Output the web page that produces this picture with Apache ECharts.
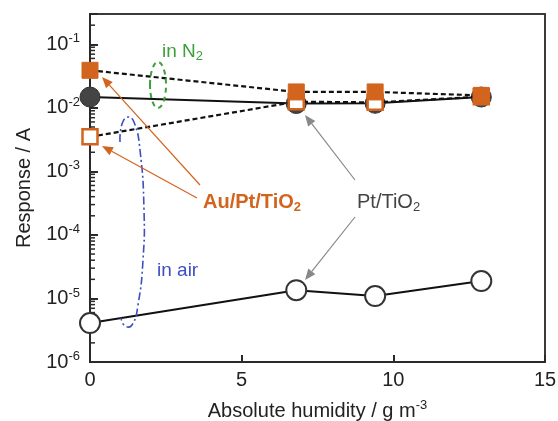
<!DOCTYPE html>
<html>
<head>
<meta charset="utf-8">
<script src="https://cdn.jsdelivr.net/npm/echarts@6/dist/echarts.min.js"></script>
<style>
html,body{margin:0;padding:0;background:#fff;}
#chart{width:558px;height:421px;}
</style>
</head>
<body>
<div id="chart"></div>
<script>
// ---- data ----
const humidity = [0, 6.8, 9.4, 12.9];
const ptTiO2Air = [4.1e-6, 1.35e-5, 1.09e-5, 1.88e-5];
const ptTiO2N2 = [0.0148, 0.0117, 0.0118, 0.0148];
const auPtTiO2N2 = [0.039, 0.0178, 0.0178, 0.0157];
const auPtTiO2Air = [0.0035, 0.0125, 0.0122, 0.0150];
const xTicks = [0, 5, 10, 15];
const yDecades = [-6, -5, -4, -3, -2, -1];
const minorMultipliers = [2, 3, 4, 5, 6, 7, 8, 9];

const FONT = 'Liberation Sans, Arial, sans-serif';
const ORANGE = '#d2641e';
const GREEN = '#3ca03c';
const BLUE = '#3c4fc4';

function pairs(ys) { return humidity.map((x, i) => [x, ys[i]]); }

const minorTickData = [];
yDecades.forEach(d => minorMultipliers.forEach(m => {
  const v = m * Math.pow(10, d);
  if (v <= 0.3 + 1e-9) minorTickData.push([0, v]);
}));

function arrow(x1, y1, x2, y2, color) {
  const ang = Math.atan2(y2 - y1, x2 - x1);
  const L = 11, W = 4.5;
  const bx = x2 - L * Math.cos(ang), by = y2 - L * Math.sin(ang);
  const px = -Math.sin(ang) * W, py = Math.cos(ang) * W;
  return [
    { type: 'line', shape: { x1: x1, y1: y1, x2: bx, y2: by }, style: { stroke: color, lineWidth: 1.2 }, z: 20 },
    { type: 'polygon', shape: { points: [[x2, y2], [bx + px, by + py], [bx - px, by - py]] }, style: { fill: color }, z: 20 }
  ];
}

const chart = echarts.init(document.getElementById('chart'), null, { renderer: 'canvas' });

const option = {
  backgroundColor: '#fff',
  animation: false,
  grid: { left: 90, right: 13, top: 14, bottom: 59, containLabel: false, outerBoundsMode: 'none',
    show: true, borderColor: '#3a3a3a', borderWidth: 2, backgroundColor: 'transparent' },
  xAxis: {
    type: 'value', min: 0, max: 15, interval: 5,
    axisLine: { show: true, onZero: false, lineStyle: { color: '#2a2a2a', width: 2 } },
    axisTick: { show: true, inside: true, length: 7, lineStyle: { color: '#2a2a2a', width: 2 } },
    splitLine: { show: false },
    axisLabel: {
      fontSize: 20, color: '#222', fontFamily: FONT, margin: 8,
      formatter: v => xTicks.indexOf(v) >= 0 ? String(v) : ''
    },
    name: '{a|Absolute humidity / g m}{s|-3}',
    nameLocation: 'middle', nameGap: 37,
    nameTextStyle: {
      rich: {
        a: { fontSize: 20, color: '#222', fontFamily: FONT, lineHeight: 24 },
        s: { fontSize: 13, color: '#222', fontFamily: FONT, verticalAlign: 'top', lineHeight: 14 }
      }
    }
  },
  yAxis: {
    type: 'log', logBase: 10, min: 1e-6, max: 0.3,
    axisLine: { show: true, onZero: false, lineStyle: { color: '#2a2a2a', width: 2 } },
    axisTick: { show: true, inside: true, length: 8, lineStyle: { color: '#2a2a2a', width: 2 } },
    minorTick: { show: false },
    splitLine: { show: false },
    axisLabel: {
      margin: 10,
      formatter: function (v) {
        const e = Math.log10(v);
        if (Math.abs(e - Math.round(e)) > 1e-6) return '';
        return '{b|10}{s|' + Math.round(e) + '}';
      },
      rich: {
        b: { fontSize: 20, color: '#222', fontFamily: FONT, lineHeight: 24 },
        s: { fontSize: 13, color: '#222', fontFamily: FONT, verticalAlign: 'top', lineHeight: 14 }
      }
    },
    name: 'Response / A',
    nameLocation: 'middle', nameGap: 56, nameRotate: 90,
    nameTextStyle: { fontSize: 20, color: '#222', fontFamily: FONT }
  },
  series: [
    {
      name: 'minor ticks', type: 'custom', silent: true, z: 1,
      data: minorTickData,
      renderItem: function (params, api) {
        const p = api.coord([0, api.value(1)]);
        return { type: 'line', shape: { x1: p[0], y1: p[1], x2: p[0] + 5, y2: p[1] }, style: { stroke: '#2a2a2a', lineWidth: 1.5 } };
      }
    },
    {
      name: 'Pt/TiO2 in N2', type: 'line', z: 2,
      data: pairs(ptTiO2N2),
      symbol: 'circle', symbolSize: 20,
      lineStyle: { color: '#111', width: 2 },
      itemStyle: { color: '#444', borderColor: '#333', borderWidth: 1 }
    },
    {
      name: 'Pt/TiO2 in air', type: 'line', z: 3,
      data: pairs(ptTiO2Air),
      symbol: 'circle', symbolSize: 20,
      lineStyle: { color: '#111', width: 2 },
      itemStyle: { color: '#fff', borderColor: '#333', borderWidth: 2 }
    },
    {
      name: 'Au/Pt/TiO2 in air', type: 'line', z: 4,
      data: pairs(auPtTiO2Air),
      symbol: 'rect', symbolSize: 15,
      lineStyle: { color: '#111', width: 2.2, type: [5, 3] },
      itemStyle: { color: '#fff', borderColor: ORANGE, borderWidth: 2.5 }
    },
    {
      name: 'Au/Pt/TiO2 in N2', type: 'line', z: 5,
      data: pairs(auPtTiO2N2),
      symbol: 'rect', symbolSize: 16,
      lineStyle: { color: '#111', width: 2.2, type: [5, 3] },
      itemStyle: { color: ORANGE, borderColor: ORANGE, borderWidth: 1 }
    }
  ],
  graphic: [
    { type: 'ellipse', shape: { cx: 158, cy: 85, rx: 8, ry: 23 }, style: { fill: 'none', stroke: GREEN, lineWidth: 2, lineDash: [5, 4] }, z: 20 },
    { type: 'text', x: 162, y: 40, style: { text: '{a|in N}{b|2}', rich: {
        a: { fontSize: 19, fill: GREEN, fontFamily: FONT },
        b: { fontSize: 13, fill: GREEN, fontFamily: FONT, padding: [10, 0, 0, 0] } } }, z: 20 },
    { type: 'polyline', shape: { smooth: 0.5, points: [[120, 142], [122, 124], [128, 117], [134, 122], [140, 150], [144, 210], [143, 260], [138, 305], [132, 325], [125, 326], [121, 318]] },
      style: { fill: 'none', stroke: BLUE, lineWidth: 1.6, lineDash: [8, 3, 2, 3] }, z: 20 },
    { type: 'text', x: 157, y: 261, style: { text: 'in air', fontSize: 19, fill: BLUE, fontFamily: FONT }, z: 20 },
    { type: 'text', x: 203, y: 191, style: { text: '{a|Au/Pt/TiO}{b|2}', rich: {
        a: { fontSize: 20, fontWeight: 'bold', fill: ORANGE, fontFamily: FONT },
        b: { fontSize: 13, fontWeight: 'bold', fill: ORANGE, fontFamily: FONT, padding: [10, 0, 0, 0] } } }, z: 20 },
    { type: 'text', x: 357, y: 191, style: { text: '{a|Pt/TiO}{b|2}', rich: {
        a: { fontSize: 20, fill: '#444', fontFamily: FONT },
        b: { fontSize: 13, fill: '#444', fontFamily: FONT, padding: [10, 0, 0, 0] } } }, z: 20 }
  ].concat(arrow(200, 185, 102, 77, ORANGE))
   .concat(arrow(197, 198, 102, 146, ORANGE))
   .concat(arrow(355, 180, 305, 115, '#888'))
   .concat(arrow(355, 217, 305, 280, '#888'))
};

chart.setOption(option);
</script>
</body>
</html>
